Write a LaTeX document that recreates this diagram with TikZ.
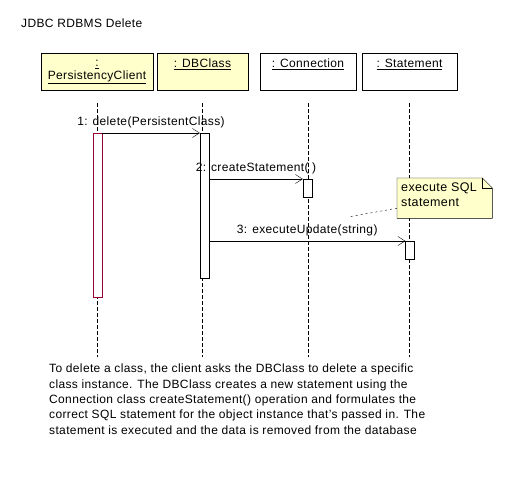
\documentclass[tikz,border=0pt]{standalone}
\usepackage{fontspec}
\setmainfont{Liberation Sans}[LetterSpace=3]
\usetikzlibrary{arrows.meta,positioning}
\definecolor{noteyellow}{HTML}{FFFFCC}
\definecolor{focusred}{HTML}{990033}

\tikzset{
  objbox/.style={draw, minimum height=37pt, inner sep=0pt},
  lifeline/.style={dash pattern=on 4pt off 2pt},
  actbar/.style={draw, fill=white, minimum width=9pt, inner sep=0pt, anchor=north},
  msg/.style={-{Straight Barb[length=7pt,width=9pt]}},
  msglabel/.style={above=1pt}
}

\begin{document}
\begin{tikzpicture}[x=1pt,y=-1pt, font=\fontsize{12}{14}\selectfont]
  \useasboundingbox (0,0) rectangle (518,482);

  % Title
  \node[anchor=north west, inner sep=0pt] (title) at (21,19) {JDBC RDBMS Delete};

  % Object boxes
  \node[objbox, fill=noteyellow, minimum width=112pt] (boxP) at (97,71.5) {};
  \node[objbox, fill=noteyellow, minimum width=91pt] (boxD) at (202.5,71.5) {};
  \node[objbox, fill=white, minimum width=96pt] (boxC) at (308,71.5) {};
  \node[objbox, fill=white, minimum width=95pt] (boxS) at (409.5,71.5) {};

  \node[anchor=north, inner sep=0pt, align=center] (lblP) at ([yshift=-7pt]boxP.north)
    {\underline{:}\\[-1pt]\underline{PersistencyClient}};
  \node[anchor=north, inner sep=0pt] (lblD) at ([yshift=-6pt]boxD.north) {\underline{: DBClass}};
  \node[anchor=north, inner sep=0pt] (lblC) at ([yshift=-6pt]boxC.north) {\underline{: Connection}};
  \node[anchor=north, inner sep=0pt] (lblS) at ([yshift=-6pt]boxS.north) {\underline{: Statement}};

  % Lifelines
  \foreach \b in {boxP,boxD,boxC,boxS}
    \draw[lifeline] ([yshift=-13pt]\b.south) -- (\b |- 0,357);

  % Activations
  \node[actbar, draw=focusred, minimum height=164pt] (actP) at (97.5,133) {};
  \node[actbar, minimum height=145pt] (actD) at (204.5,133) {};
  \node[actbar, minimum height=18pt] (actC) at (307.5,179) {};
  \node[actbar, minimum height=18pt] (actS) at (410,241) {};

  % Messages
  \draw[msg] (actP.north east) -- (actD.north west)
    node[midway, msglabel] {1: delete(PersistentClass)};
  \draw[msg] (actD.east |- actC.north) -- (actC.north west)
    node[midway, msglabel] {2: createStatement( )};
  \draw[msg] (actD.east |- actS.north) -- (actS.north west)
    node[midway, msglabel] {3: executeUpdate(string)};

  % Note
  \node[minimum width=95pt, minimum height=40pt, inner sep=0pt,
        anchor=north west] (note) at (397,178) {};
  \draw[fill=noteyellow] (note.north west) -- ([xshift=-10pt]note.north east)
    -- ([yshift=-10pt]note.north east) -- (note.south east) -- (note.south west) -- cycle;
  \draw ([xshift=-10pt]note.north east) |- ([yshift=-10pt]note.north east);
  \node[anchor=north west, inner sep=0pt, align=left, font=\fontsize{12.5}{15}\selectfont] (noteText)
    at ([xshift=4pt,yshift=-5pt]note.north west) {execute SQL\\statement};
  \coordinate (noteEnd) at (348,217);
  \draw[dash pattern=on 2pt off 3pt] ([yshift=-10pt]note.west) -- (noteEnd);

  % Description
  \node[anchor=north west, inner sep=0pt, align=left,
        font=\fontsize{12}{15.3}\selectfont] (desc) at (49,364)
    {To delete a class, the client asks the DBClass to delete a specific\\
     class instance. The DBClass creates a new statement using the\\
     Connection class createStatement() operation and formulates the\\
     correct SQL statement for the object instance that's passed in. The\\
     statement is executed and the data is removed from the database};
\end{tikzpicture}
\end{document}
